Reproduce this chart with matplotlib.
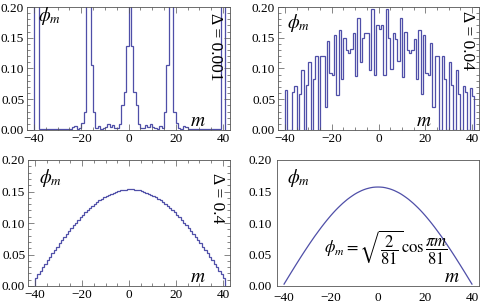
import numpy as np
import matplotlib
matplotlib.use("Agg")
import matplotlib.pyplot as plt
from matplotlib.ticker import MultipleLocator, FormatStrFormatter

plt.rcParams['font.family'] = ['Liberation Serif', 'DejaVu Serif']
plt.rcParams['mathtext.fontset'] = 'stix'

# sites m = -40 ... 40
m = np.arange(-40, 41)
edges = np.arange(-40, 42)

# half profiles for m = 0 ... 40 (states are symmetric in m)
phi_d0001_half = [0.30, 0.136, 0.062, 0.040, 0.010, 0.003, 0.003, 0.008, 0.005, 0.010,
                  0.005, 0.003, 0.002, 0.006, 0.004, 0.030, 0.106, 0.35, 0.35, 0.030,
                  0.012, 0.003, 0.002, 0.006, 0.005, 0.002, 0.001, 0.001, 0.002, 0.001,
                  0.001, 0.001, 0.002, 0.001, 0.001, 0.001, 0.001, 0.002, 0.001, 0.40,
                  0.40]

# Delta = 0.04, read left to right from m = -40
phi_d004 = [0.065, 0.000, 0.000, 0.062, 0.071, 0.000, 0.058, 0.097, 0.000, 0.073,
            0.111, 0.000, 0.083, 0.120, 0.000, 0.121, 0.120, 0.038, 0.144, 0.092,
            0.090, 0.155, 0.057, 0.162, 0.083, 0.150, 0.130, 0.125, 0.132, 0.158,
            0.087, 0.182, 0.111, 0.149, 0.158, 0.158, 0.098, 0.196, 0.090, 0.171,
            0.165,
            0.171, 0.090, 0.196, 0.150, 0.100, 0.158, 0.148, 0.113, 0.182, 0.086,
            0.160, 0.130, 0.126, 0.130, 0.148, 0.083, 0.162, 0.058, 0.155, 0.092,
            0.090, 0.142, 0.038, 0.120, 0.121, 0.000, 0.120, 0.083, 0.000, 0.111,
            0.073, 0.000, 0.097, 0.058, 0.000, 0.071, 0.062, 0.000, 0.068, 0.055]

phi_d04_half = [0.1535, 0.1534, 0.1531, 0.1525, 0.1518, 0.1509, 0.1497, 0.1483, 0.1468, 0.1450,
                0.1430, 0.1408, 0.1385, 0.1359, 0.1332, 0.1302, 0.1271, 0.1238, 0.1204, 0.1168,
                0.1130, 0.1091, 0.1050, 0.1007, 0.0964, 0.0919, 0.0873, 0.0825, 0.0777, 0.0727,
                0.0677, 0.0625, 0.0573, 0.0520, 0.0466, 0.0412, 0.0357, 0.0302, 0.0246, 0.0190,
                0.0134]

phi_exact_half = [0.1571, 0.1570, 0.1567, 0.1561, 0.1552, 0.1542, 0.1529, 0.1514, 0.1496, 0.1477,
                  0.1455, 0.1430, 0.1404, 0.1376, 0.1345, 0.1313, 0.1278, 0.1242, 0.1204, 0.1164,
                  0.1122, 0.1078, 0.1033, 0.0986, 0.0938, 0.0888, 0.0837, 0.0786, 0.0732, 0.0678,
                  0.0622, 0.0566, 0.0509, 0.0451, 0.0392, 0.0333, 0.0273, 0.0213, 0.0152, 0.0091,
                  0.0030]


def full(half):
    return np.array(half[::-1] + half[1:])


line_col = '#4f4fa8'

fig = plt.figure(figsize=(4.84, 3.06), dpi=100)
W, H = 484.0, 306.0
ax1 = fig.add_axes([27 / W, (306 - 130) / H, 203 / W, 123 / H])
ax2 = fig.add_axes([278 / W, (306 - 130) / H, 201 / W, 123 / H])
ax3 = fig.add_axes([28 / W, (306 - 286) / H, 202 / W, 126 / H])
ax4 = fig.add_axes([277 / W, (306 - 286) / H, 202 / W, 126 / H])

ax1.stairs(full(phi_d0001_half), edges, baseline=0, color=line_col, lw=0.9)
ax2.stairs(np.array(phi_d004), edges, baseline=0, color=line_col, lw=0.9)
ax3.stairs(full(phi_d04_half), edges, baseline=0, color=line_col, lw=0.9)
ax4.plot(m, full(phi_exact_half), color=line_col, lw=0.9)

for ax in (ax1, ax2, ax3, ax4):
    ax.set_xlim(-43, 43)
    ax.set_ylim(0, 0.2)
    ax.xaxis.set_major_locator(MultipleLocator(20))
    ax.yaxis.set_major_locator(MultipleLocator(0.05))
    ax.yaxis.set_major_formatter(FormatStrFormatter('%.2f'))
    ax.tick_params(labelsize=9.5, pad=2)
    for sp in ax.spines.values():
        sp.set_linewidth(0.6)
        sp.set_color('#555555')

for ax in (ax1, ax2, ax3):
    ax.xaxis.set_minor_locator(MultipleLocator(5))
    ax.yaxis.set_minor_locator(MultipleLocator(0.01))
    ax.tick_params(which='both', direction='in', top=True, right=True, width=0.5, color='#555555')
    ax.tick_params(which='major', length=4)
    ax.tick_params(which='minor', length=2)

ax4.tick_params(which='both', length=0, pad=4)

phi_kw = dict(fontsize=13.5, ha='center', va='center')
ax1.text(0.113, 0.93, r'$\phi_m$', transform=ax1.transAxes, **phi_kw)
ax2.text(0.104, 0.87, r'$\phi_m$', transform=ax2.transAxes, **phi_kw)
ax3.text(0.113, 0.857, r'$\phi_m$', transform=ax3.transAxes, **phi_kw)
ax4.text(0.104, 0.857, r'$\phi_m$', transform=ax4.transAxes, **phi_kw)

m_kw = dict(fontsize=14, ha='center', va='center')
ax1.text(0.84, 0.07, r'$m$', transform=ax1.transAxes, **m_kw)
ax2.text(0.726, 0.07, r'$m$', transform=ax2.transAxes, **m_kw)
ax3.text(0.84, 0.07, r'$m$', transform=ax3.transAxes, **m_kw)
ax4.text(0.866, 0.07, r'$m$', transform=ax4.transAxes, **m_kw)

d_kw = dict(fontsize=12.5, ha='center', va='center', rotation=-90)
ax1.text(0.926, 0.675, 'Δ = 0.001', transform=ax1.transAxes, **d_kw)
ax2.text(0.94, 0.73, 'Δ = 0.04', transform=ax2.transAxes, **d_kw)
ax3.text(0.936, 0.70, 'Δ = 0.4', transform=ax3.transAxes, **d_kw)

ax4.text(0.54, 0.30, r'$\phi_m = \sqrt{\dfrac{2}{81}}\cos\dfrac{\pi m}{81}$',
         transform=ax4.transAxes, fontsize=12, ha='center', va='center')

fig.savefig('out.png', dpi=100)
